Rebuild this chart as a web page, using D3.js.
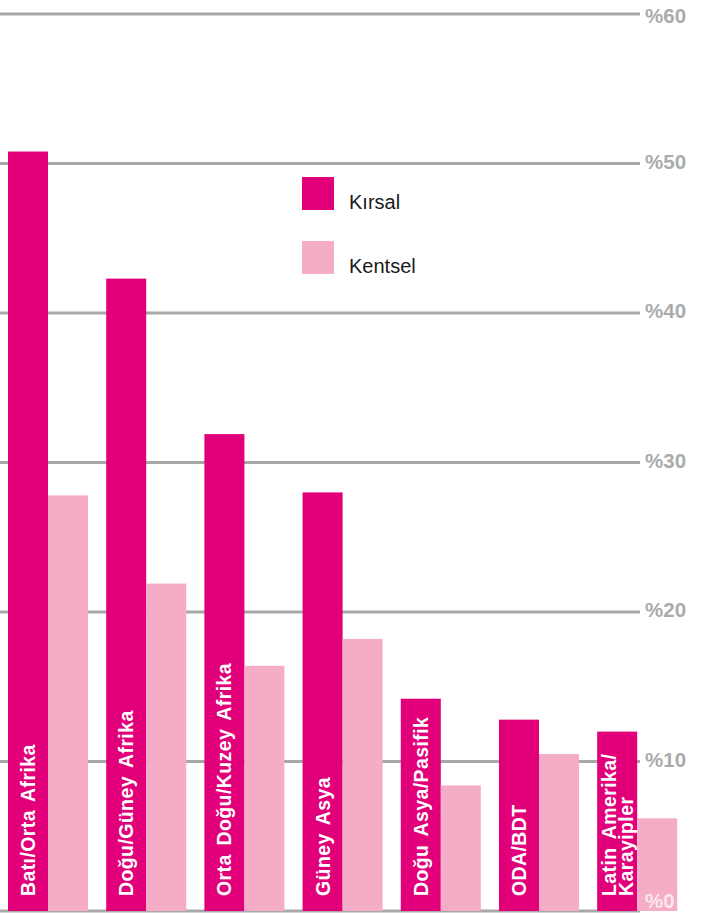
<!DOCTYPE html>
<html>
<head>
<meta charset="utf-8">
<script src="https://cdn.jsdelivr.net/npm/d3@7"></script>
<style>
  html, body { margin: 0; padding: 0; background: #fff; }
  svg { display: block; }
</style>
</head>
<body>
<svg id="chart"></svg>
<script>
// --- Data ---
const regions = [
  ["Batı/Orta Afrika"],
  ["Doğu/Güney Afrika"],
  ["Orta Doğu/Kuzey Afrika"],
  ["Güney Asya"],
  ["Doğu Asya/Pasifik"],
  ["ODA/BDT"],
  ["Latin Amerika/", "Karayipler"]
];
const series = ["Kırsal", "Kentsel"];
const ruralValues = [50.8, 42.3, 31.9, 28.0, 14.2, 12.8, 12.0];
const urbanValues = [27.8, 21.9, 16.4, 18.2, 8.4, 10.5, 6.2];
const yTicks = [0, 10, 20, 30, 40, 50, 60];

const W = 702, H = 913;
const FONT = "Liberation Sans, Arial, sans-serif";
const colors = { "Kırsal": "#e2007a", "Kentsel": "#f5adc7" };

const svg = d3.select("#chart").attr("width", W).attr("height", H);

const keys = regions.map(d => d.join(" "));
const x = d3.scaleBand().domain(keys).range([8, 677.2]).paddingInner(0.185).paddingOuter(0);
const xs = d3.scaleBand().domain(series).range([0, x.bandwidth()]);
const y = d3.scaleLinear().domain([0, 60]).range([911, 14]);

// label baseline: a little below the line, kept inside the picture
const labelY = d => Math.min(Math.max(y(d) + 5, 23), 908);

// --- Grid ---
svg.append("g").selectAll("line")
  .data(yTicks).join("line")
  .attr("x1", 0).attr("x2", 640)
  .attr("y1", d => y(d)).attr("y2", d => y(d))
  .attr("stroke", "#a8a8a8").attr("stroke-width", 3);

// --- Axis labels ---
svg.append("g").selectAll("text")
  .data(yTicks.filter(d => d > 0)).join("text")
  .attr("x", 645).attr("y", labelY)
  .attr("font-family", FONT)
  .attr("font-weight", "700").attr("font-size", "20.5px")
  .attr("fill", "#ababab")
  .text(d => "%" + d);

// --- Bars ---
const rows = keys.map((k, i) => ({ key: k, lines: regions[i], values: [
  { s: "Kırsal", v: ruralValues[i] }, { s: "Kentsel", v: urbanValues[i] } ] }));

const g = svg.append("g").selectAll("g")
  .data(rows).join("g")
  .attr("transform", d => `translate(${x(d.key)},0)`);

g.selectAll("rect")
  .data(d => d.values).join("rect")
  .attr("x", d => xs(d.s)).attr("width", xs.bandwidth())
  .attr("y", d => y(d.v)).attr("height", d => y(0) - y(d.v))
  .attr("fill", d => colors[d.s]);

// "%0" sits over the last pale bar, appears white
svg.append("text")
  .attr("x", 645).attr("y", labelY(0))
  .attr("font-family", FONT)
  .attr("font-weight", "700").attr("font-size", "20.5px")
  .attr("fill", "#fbe8ef")
  .text("%0");

// --- Bar labels (rotated, inside rural bar) ---
g.each(function(d) {
  const n = d.lines.length;
  const cx = xs("Kırsal") + xs.bandwidth() / 2;
  const t = d3.select(this).append("text")
    .attr("transform", `translate(${cx},896) rotate(-90)`)
    .attr("font-family", FONT)
    .attr("font-weight", "700").attr("font-size", "19.5px")
    .attr("letter-spacing", "0.4px").attr("word-spacing", "3px")
    .attr("fill", "#fff");
  d.lines.forEach((line, i) => {
    t.append("tspan")
      .attr("x", 0)
      .attr("y", (i - (n - 1) / 2) * 17 + 7)
      .text(line);
  });
});

// --- Legend ---
const leg = svg.append("g").selectAll("g")
  .data(series).join("g")
  .attr("transform", (d, i) => `translate(302,${177 + i * 64})`);
leg.append("rect").attr("width", 32).attr("height", 33).attr("fill", d => colors[d]);
leg.append("text")
  .attr("x", 47).attr("y", 32)
  .attr("font-family", FONT)
  .attr("font-size", "20px").attr("fill", "#1a1a1a")
  .text(d => d);
</script>
</body>
</html>
